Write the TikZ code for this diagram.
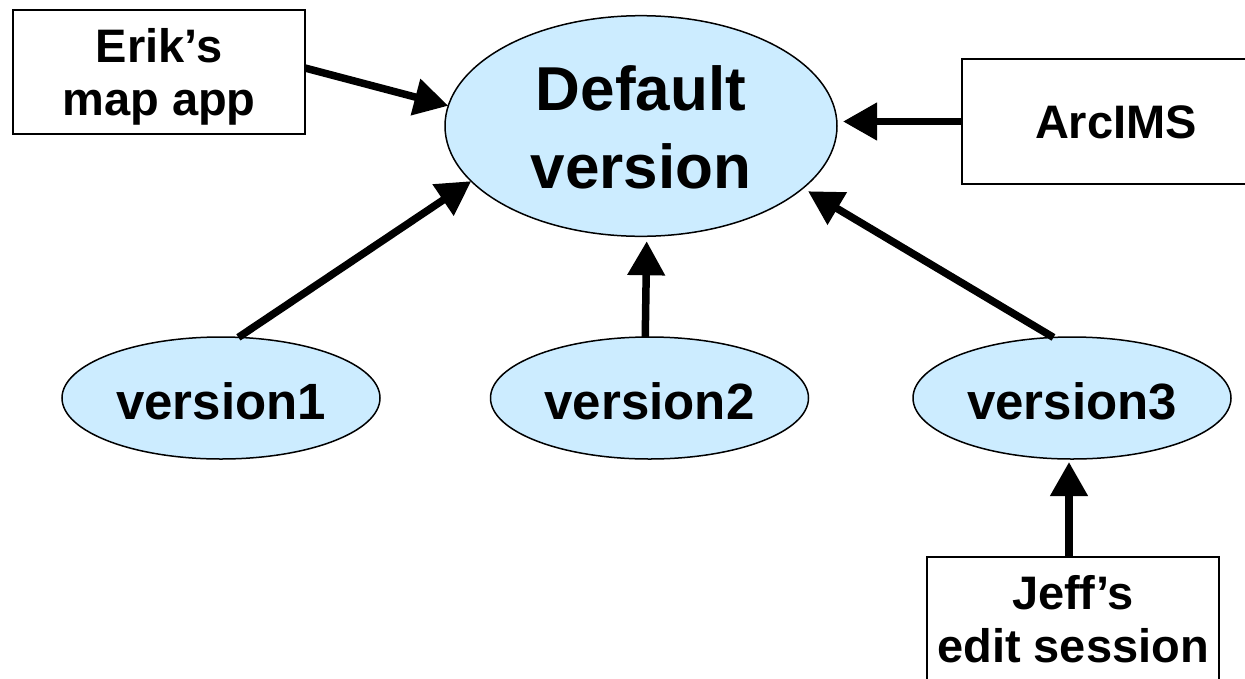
\documentclass[tikz,border=0pt]{standalone}
\usepackage{fontspec}
\setmainfont{Liberation Sans}
\usetikzlibrary{shapes.geometric,arrows.meta}
\definecolor{ellfill}{RGB}{204,236,255}
\begin{document}
\begin{tikzpicture}[x=1pt,y=-1pt,
  box/.style={draw=black, line width=1.8pt, rectangle, inner sep=0pt, outer sep=0pt,
    align=center, minimum width=292pt, minimum height=124pt,
    font=\fontsize{47}{53}\selectfont\bfseries},
  ell/.style={ellipse, draw=black, line width=1.5pt, fill=ellfill, inner sep=0pt,
    outer sep=0pt, align=center},
  vell/.style={ell, minimum width=318pt, minimum height=122pt,
    text height=42pt, text depth=0pt, font=\fontsize{51}{60}\selectfont\bfseries},
  arr/.style={line width=7.5pt, -{Triangle[length=34pt,width=36pt]}}
]
\useasboundingbox (0,0) rectangle (1245,678);
\clip (0,0) rectangle (1245,678);

\node[ell, minimum width=392pt, minimum height=192pt, text height=140pt, text depth=16pt,
  font=\fontsize{62}{78}\selectfont\bfseries] (def) at (641,126) {Default\\version};
\node[vell] (v1) at (221,398) {version1};
\node[vell] (v2) at (649.5,398) {version2};
\node[vell] (v3) at (1072,398) {version3};

\node[box, text height=96pt, text depth=10pt] (erik) at (159,72) {Erik’s\\map app};
\node[box, minimum width=308pt, minimum height=125pt, text height=33pt, text depth=0pt] (arcims) at (1116,121.5) {ArcIMS};
\node[box, text height=96pt, text depth=10pt] (jeff) at (1073,619) {Jeff’s\\edit session};

\draw[arr] ([yshift=4pt]erik.east) -- (def.174);
\draw[arr, shorten >=6pt] (arcims.west) -- (arcims.west -| def.east);
\draw[arr] (v1.74) -- (def.198);
\draw[arr, shorten >=5pt] (v2.94) -- (def.273);
\draw[arr, shorten >=6pt] (v3.107) -- (def.339);
\draw[arr, shorten >=3pt] ([xshift=-4pt]jeff.north) -- ([xshift=-3pt]v3.south);
\end{tikzpicture}
\end{document}
